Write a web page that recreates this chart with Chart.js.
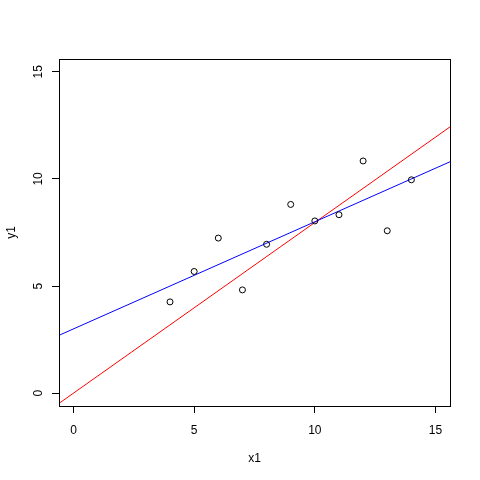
<!DOCTYPE html>
<html>
<head>
<meta charset="utf-8">
<script src="https://cdn.jsdelivr.net/npm/chart.js@4/dist/chart.umd.min.js"></script>
<style>
  html, body { margin: 0; padding: 0; background: #fff; }
  #wrap { width: 480px; height: 480px; }
</style>
</head>
<body>
<div id="wrap"><canvas id="plot" width="480" height="480"></canvas></div>
<script>
// Anscombe set 1
const x1 = [10, 8, 13, 9, 11, 14, 6, 4, 12, 7, 5];
const y1 = [8.04, 6.95, 7.58, 8.81, 8.33, 9.96, 7.24, 4.26, 10.84, 4.82, 5.68];
const xTicks = [0, 5, 10, 15];
const yTicks = [0, 5, 10, 15];
const axisMin = -0.6, axisMax = 15.6;
// fitted lines: [intercept, slope]
const fitBlue = [3.0001, 0.5001];
const fitRed = [0, 0.7968];

function lineEnds(fit) {
  return [axisMin, axisMax].map(x => ({ x: x, y: fit[0] + fit[1] * x }));
}

const font = { family: 'Liberation Sans, Arial, sans-serif', size: 12 };

// box + rotated y labels + axis titles, placed from the scales
const rFrame = {
  id: 'rFrame',
  afterDraw(chart) {
    const c = chart.ctx, a = chart.chartArea;
    const ys = chart.scales.y;
    c.save();
    c.strokeStyle = '#000';
    c.lineWidth = 1;
    c.strokeRect(Math.round(a.left) + 0.5, Math.round(a.top) + 0.5,
                 Math.round(a.right - a.left), Math.round(a.bottom - a.top));
    c.fillStyle = '#000';
    c.font = font.size + 'px ' + font.family;
    c.textAlign = 'center';
    c.textBaseline = 'middle';
    yTicks.forEach(v => {
      c.save();
      c.translate(39, ys.getPixelForValue(v));
      c.rotate(-Math.PI / 2);
      c.fillText(String(v), 0, 0);
      c.restore();
    });
    c.fillText('x1', (a.left + a.right) / 2, 459);
    c.save();
    c.translate(12, (a.top + a.bottom) / 2);
    c.rotate(-Math.PI / 2);
    c.fillText('y1', 0, 0);
    c.restore();
    c.restore();
  }
};

new Chart(document.getElementById('plot'), {
  type: 'scatter',
  data: {
    datasets: [
      {
        label: 'points',
        data: x1.map((x, i) => ({ x: x, y: y1[i] })),
        pointRadius: 3,
        pointBorderWidth: 1,
        pointBorderColor: '#000',
        pointBackgroundColor: 'rgba(0,0,0,0)',
        showLine: false
      },
      {
        type: 'line',
        label: 'lm',
        data: lineEnds(fitBlue),
        borderColor: '#0000ff',
        borderWidth: 1,
        pointRadius: 0,
        fill: false
      },
      {
        type: 'line',
        label: 'lm0',
        data: lineEnds(fitRed),
        borderColor: '#ff0000',
        borderWidth: 1,
        pointRadius: 0,
        fill: false
      }
    ]
  },
  options: {
    responsive: false,
    animation: false,
    events: [],
    layout: { padding: { top: 59, right: 30, left: 0, bottom: 0 } },
    plugins: { legend: { display: false }, tooltip: { enabled: false } },
    scales: {
      x: {
        type: 'linear',
        min: axisMin, max: axisMax,
        afterBuildTicks: s => { s.ticks = xTicks.map(v => ({ value: v })); },
        afterFit: s => { s.height = 74; },
        grid: { drawOnChartArea: false, drawTicks: true, tickLength: 7, color: '#000' },
        border: { display: false },
        ticks: { color: '#000', font: font, padding: 10, maxRotation: 0 }
      },
      y: {
        type: 'linear',
        min: axisMin, max: axisMax,
        afterBuildTicks: s => { s.ticks = yTicks.map(v => ({ value: v })); },
        afterFit: s => { s.width = 59; },
        grid: { drawOnChartArea: false, drawTicks: true, tickLength: 7, color: '#000' },
        border: { display: false },
        ticks: { display: false }
      }
    }
  },
  plugins: [rFrame]
});
</script>
</body>
</html>
